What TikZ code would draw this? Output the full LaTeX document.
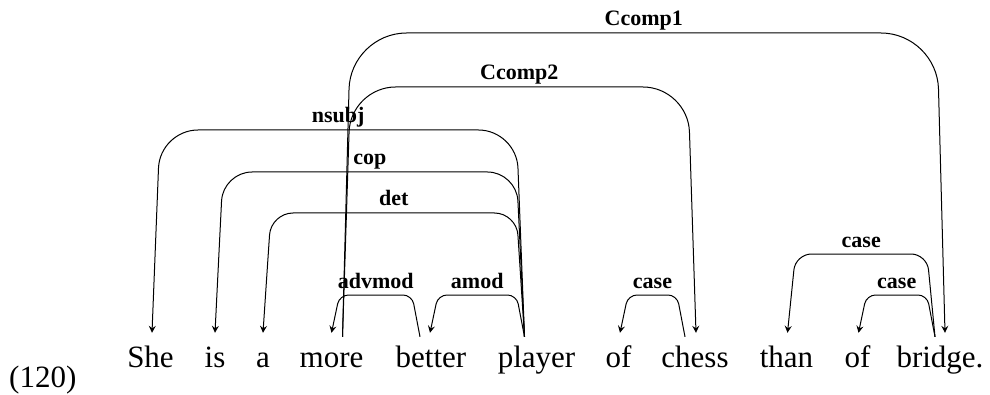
\documentclass[tikz,border=0pt]{standalone}
\usepackage{fontspec}
\setmainfont{Liberation Serif}
\usetikzlibrary{positioning,arrows.meta,calc}
\tikzset{
  word/.style={anchor=base, inner sep=0pt, text height=24pt, text depth=7pt,
    font=\fontsize{31}{36}\selectfont},
  deplabel/.style={anchor=base, inner sep=0pt, font=\fontsize{22}{26}\selectfont\bfseries},
  deparrow/.style={-{Stealth[length=7pt,width=7pt,inset=2.5pt]}, line width=1pt, draw=black},
}
\newcommand{\deparc}[6]{%
  \draw[deparrow, rounded corners=#4pt] let \p1=#1, \p2=#2 in
    (\p1) -- ({\x1+(#5pt)}, {#3pt}) -- ({\x2-(#5pt)}, {#3pt}) -- (\p2)
    node[deplabel] at ({(\x1+\x2)/2}, {#3pt+7pt}) {#6};
}

\begin{document}
\begin{tikzpicture}[x=1pt,y=1pt]
  \useasboundingbox (0,0) rectangle (990,394);
  \node[word, anchor=base west] (num) at (9,7) {(120)};
  \node[word] (w1) at (150.5,27) {She};
  \node[word] (w2) at (215,27) {is};
  \node[word] (w3) at (263,27) {a};
  \node[word] (w4) at (331.5,27) {more};
  \node[word] (w5) at (431,27) {better};
  \node[word] (w6) at (536.5,27) {player};
  \node[word] (w7) at (618.5,27) {of};
  \node[word] (w8) at (695,27) {chess};
  \node[word] (w9) at (786.5,27) {than};
  \node[word] (w10) at (857.5,27) {of};
  \node[word] (w11) at (940,27) {bridge.};

  \deparc{($(w4.north)+(11,6)$)}{($(w11.north)+(5,10)$)}{361}{56}{8}{Ccomp1}
  \deparc{($(w4.north)+(11,6)$)}{($(w8.north)+(1,10)$)}{307}{45}{8}{Ccomp2}
  \deparc{($(w6.north)+(-12,6)$)}{($(w1.north)+(1.5,10)$)}{264}{38}{-8}{nsubj}
  \deparc{($(w6.north)+(-12,6)$)}{($(w2.north)+(0,10)$)}{222}{29}{-8}{cop}
  \deparc{($(w6.north)+(-12,6)$)}{($(w3.north)+(0,10)$)}{181}{22}{-8}{det}
  \deparc{($(w5.north)+(-11,6)$)}{($(w4.north)+(0,10)$)}{99}{9}{-8}{advmod}
  \deparc{($(w6.north)+(-12,6)$)}{($(w5.north)+(-1,10)$)}{99}{9}{-8}{amod}
  \deparc{($(w8.north)+(-10,6)$)}{($(w7.north)+(1.5,10)$)}{99}{9}{-8}{case}
  \deparc{($(w11.north)+(-5,6)$)}{($(w9.north)+(1,10)$)}{140}{16}{-8}{case}
  \deparc{($(w11.north)+(-5,6)$)}{($(w10.north)+(1,10)$)}{99}{9}{-8}{case}
\end{tikzpicture}
\end{document}
